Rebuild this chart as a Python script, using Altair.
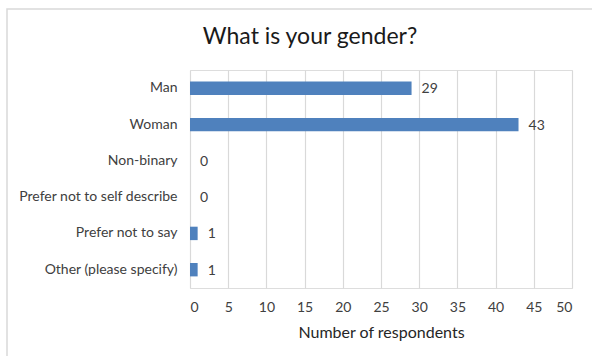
import altair as alt
import pandas as pd

categories = ["Man", "Woman", "Non-binary", "Prefer not to self describe",
              "Prefer not to say", "Other (please specify)"]
counts = [29, 43, 0, 0, 1, 1]
x_ticks = [0, 5, 10, 15, 20, 25, 30, 35, 40, 45, 50]
chart_title = ["What is your gender?"]

df = pd.DataFrame({"category": categories, "count": counts})
one = pd.DataFrame({"t": chart_title})

W, H = 382, 218
FONT = "Lato"
LS = 14

y_enc = alt.Y("category:N", sort=categories, title=None,
              scale=alt.Scale(paddingInner=0.63, paddingOuter=0.32),
              axis=alt.Axis(ticks=False, domain=False, labelFontSize=LS, labelColor="#404040",
                            labelPadding=13, labelFont=FONT, grid=False, labelFontWeight="normal"))
x_enc = alt.X("count:Q", title="Number of respondents",
              scale=alt.Scale(domain=[0, 50], nice=False, zero=True),
              axis=alt.Axis(values=x_ticks, ticks=False, domain=False, grid=True,
                            gridColor="#d9d9d9", gridWidth=1.2, labelFontSize=LS,
                            labelColor="#404040", labelPadding=12, labelFont=FONT,
                            labelOverlap=False, labelBound=False, tickCount=11,
                            titleFont=FONT, titleFontSize=16, titleFontWeight="normal",
                            titleColor="#262626", titlePadding=10))

bars = alt.Chart(df).mark_bar(color="#4F81BD").encode(x=x_enc, y=y_enc)
labels = alt.Chart(df).mark_text(align="left", dx=10, dy=1, fontSize=LS, font=FONT,
                                 fontWeight=400, color="#404040").encode(
    x=x_enc, y=y_enc, text="count:Q")

border = alt.Chart(one).mark_rect(fill="transparent", stroke="#d9d9d9", strokeWidth=1.5, clip=False).encode(
    x=alt.value(-183), x2=alt.value(410), y=alt.value(-61), y2=alt.value(300))

title = alt.Chart(one).mark_text(fontSize=23, font=FONT, fontWeight="normal", color="#1a1a1a").encode(
    x=alt.value(120), y=alt.value(-33), text="t:N")

chart = alt.layer(border, bars, labels, title).properties(
    width=W, height=H,
    autosize=alt.AutoSizeParams(type="none"),
    padding={"left": 190, "top": 70, "right": 20, "bottom": 68},
).configure_view(stroke="transparent", strokeWidth=0).configure_axis(domain=False).configure_axisY(grid=False).configure(background="white")

chart.save("out.html", embed_options={"renderer": "svg", "actions": False})
